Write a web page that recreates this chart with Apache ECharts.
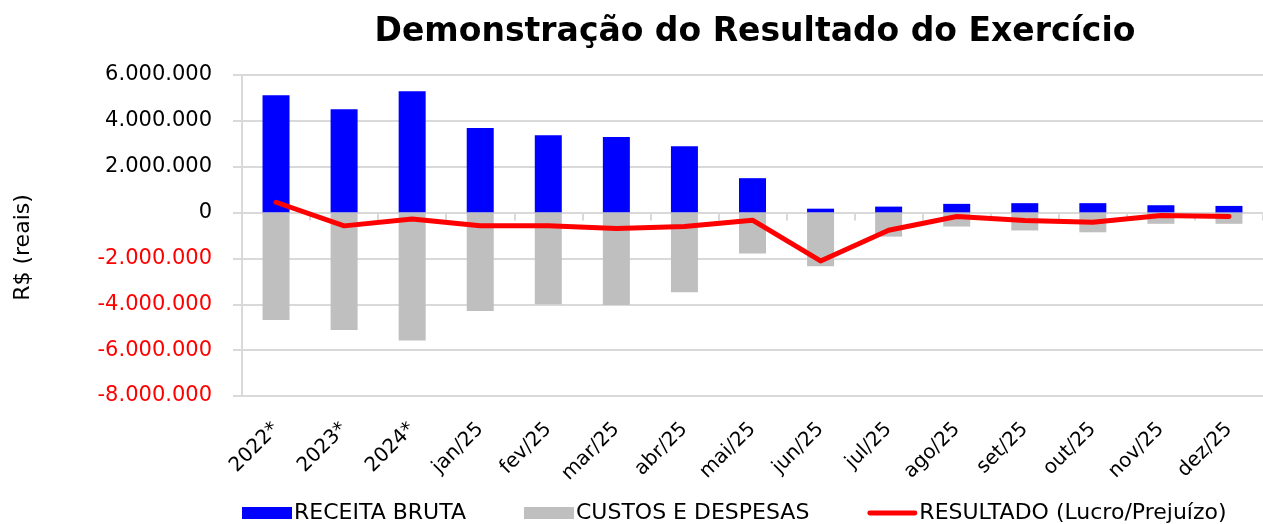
<!DOCTYPE html>
<html>
<head>
<meta charset="utf-8">
<script src="https://cdn.jsdelivr.net/npm/echarts@6/dist/echarts.min.js"></script>
<style>
  html, body { margin: 0; padding: 0; background: #fff; }
  #chart { width: 1263px; height: 524px; }
</style>
</head>
<body>
<div id="chart"></div>
<script>
// dados
var periodos = ['2022*', '2023*', '2024*', 'jan/25', 'fev/25', 'mar/25', 'abr/25', 'mai/25',
  'jun/25', 'jul/25', 'ago/25', 'set/25', 'out/25', 'nov/25', 'dez/25'];
var receitaBruta = [5120000, 4510000, 5290000, 3690000, 3370000, 3300000, 2890000, 1500000,
  170000, 260000, 380000, 410000, 410000, 320000, 290000];
var custosDespesas = [-4680000, -5120000, -5580000, -4290000, -4000000, -4030000, -3470000, -1790000,
  -2340000, -1050000, -610000, -780000, -860000, -490000, -490000];
var resultado = [450000, -580000, -280000, -570000, -570000, -700000, -610000, -330000,
  -2110000, -770000, -170000, -350000, -420000, -130000, -170000];

var fonte = 'DejaVu Sans';
var cinzaGrade = '#d9d9d9';

// formata 6000000 -> 6.000.000
function fmt(v) {
  var s = Math.abs(v).toString().replace(/\B(?=(\d{3})+(?!\d))/g, '.');
  return (v < 0 ? '-' : '') + s;
}

var myChart = echarts.init(document.getElementById('chart'));
var option = {
  backgroundColor: '#fff',
  animation: false,
  title: {
    text: 'Demonstração do Resultado do Exercício',
    left: 750,
    textAlign: 'center',
    top: 11,
    textStyle: { fontFamily: fonte, fontSize: 33, fontWeight: 'bold', color: '#000' }
  },
  legend: {
    bottom: 0,
    left: 242,
    padding: 0,
    itemWidth: 50,
    itemHeight: 12,
    itemGap: 58,
    textStyle: { fontFamily: fonte, fontSize: 22, color: '#000', padding: [0, 0, 0, -3] },
    data: [
      { name: 'RECEITA BRUTA', icon: 'rect' },
      { name: 'CUSTOS E DESPESAS', icon: 'rect' },
      { name: 'RESULTADO (Lucro/Prejuízo)', icon: 'path://M2,0 L48,0 A2.5,2.5 0 0 1 48,5 L2,5 A2.5,2.5 0 0 1 2,0 Z',
        itemStyle: { color: '#ff0000' } }
    ]
  },
  grid: { left: 242, top: 75, bottom: 128, width: 1032 },
  xAxis: [{
    type: 'category',
    data: periodos,
    axisLine: { show: false, onZero: false },
    axisTick: { show: false },
    axisLabel: { rotate: 45, fontFamily: fonte, fontSize: 20, color: '#000', margin: 30 }
  }, {
    // eixo no zero só com as marcas
    type: 'category',
    data: periodos,
    position: 'top',
    axisLine: { show: true, onZero: true, onZeroAxisIndex: 0, lineStyle: { color: cinzaGrade, width: 2 } },
    axisTick: { show: true, inside: true, length: 8, lineStyle: { color: cinzaGrade, width: 2 } },
    axisLabel: { show: false }
  }],
  yAxis: {
    type: 'value',
    min: -8000000,
    max: 6000000,
    interval: 2000000,
    name: 'R$ (reais)',
    nameLocation: 'middle',
    nameGap: 208,
    nameRotate: 90,
    nameTextStyle: { fontFamily: fonte, fontSize: 22, color: '#000', padding: [0, 0, 0, -24] },
    axisLine: { show: true, lineStyle: { color: cinzaGrade, width: 2 } },
    axisTick: { show: true, length: 9, lineStyle: { color: cinzaGrade, width: 2 } },
    axisLabel: {
      fontFamily: fonte, fontSize: 21, margin: 30,
      formatter: fmt,
      color: function (v) { return v < 0 ? '#ff0000' : '#000'; }
    },
    splitLine: { lineStyle: { color: cinzaGrade, width: 2 } }
  },
  series: [{
    name: 'RECEITA BRUTA',
    type: 'bar',
    data: receitaBruta,
    barWidth: 27,
    barGap: '-100%',
    itemStyle: { color: '#0000ff' }
  }, {
    name: 'CUSTOS E DESPESAS',
    type: 'bar',
    data: custosDespesas,
    barWidth: 27,
    itemStyle: { color: '#bfbfbf' }
  }, {
    name: 'RESULTADO (Lucro/Prejuízo)',
    type: 'line',
    data: resultado,
    symbol: 'none',
    z: 5,
    itemStyle: { color: '#ff0000' },
    lineStyle: { color: '#ff0000', width: 5, cap: 'round', join: 'round' }
  }]
};
myChart.setOption(option);
</script>
</body>
</html>
